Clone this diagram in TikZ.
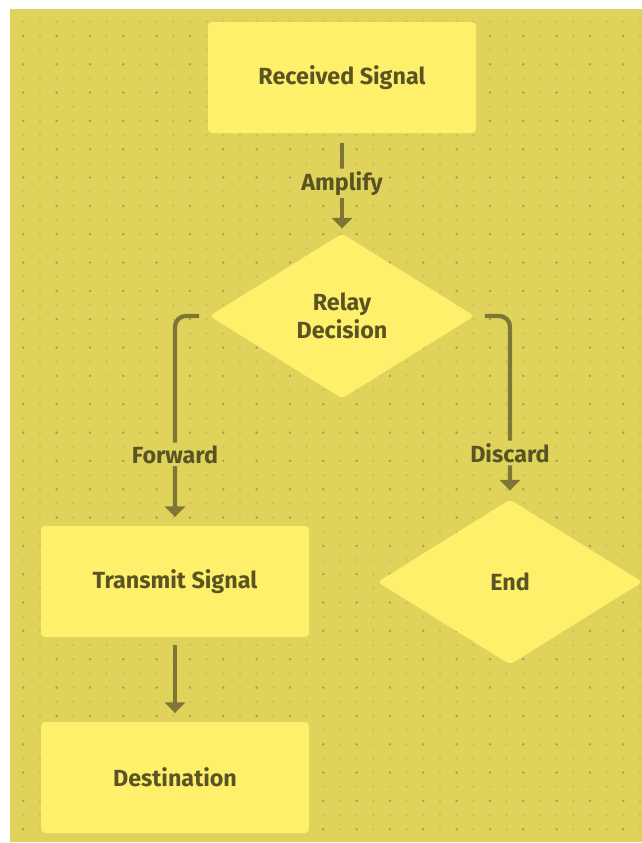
\documentclass[tikz,border=0pt]{standalone}
\usepackage{fontspec}
\setmainfont{Fira Sans}
\usetikzlibrary{shapes.geometric,arrows.meta}
\definecolor{bgc}{HTML}{E0D35B}
\definecolor{nodefill}{HTML}{FFF06B}
\definecolor{linec}{HTML}{7E7634}
\definecolor{textc}{HTML}{5A5424}
\definecolor{dotdark}{HTML}{ADA244}
\definecolor{dotlight}{HTML}{C9BE51}
\tikzset{
  box/.style={rectangle, rounded corners=3pt, fill=nodefill, minimum width=201pt, minimum height=83.25pt, inner sep=0pt},
  decision/.style={diamond, aspect=1.6, rounded corners=3pt, fill=nodefill, minimum width=198.75pt, minimum height=123.75pt, inner sep=0pt, align=center},
  txt/.style={font=\fontsize{17.5}{21}\selectfont\bfseries, text=textc},
  conn/.style={draw=linec, line width=3.2pt, -{Triangle[width=15pt,length=8pt]}, rounded corners=8pt},
  lbl/.style={fill=bgc, inner sep=2pt, font=\fontsize{17.5}{21}\selectfont\bfseries, text=textc}
}
\begin{document}
\begin{tikzpicture}[x=0.75pt,y=-0.75pt]
\useasboundingbox (0,0) rectangle (642,843);
\fill[white] (0,0) rectangle (642,843);
\fill[bgc] (10,9) rectangle (642,842);
% minor dots
\foreach \i in {0,...,37}{
  \foreach \j in {0,...,57}{
    \fill[dotlight] ({23.3+16.667*\i},{21.7+14.167*\j}) circle (0.9pt);
  }
}
% major dots
\foreach \i in {0,...,18}{
  \foreach \j in {0,...,28}{
    \fill[dotdark] ({23.3+33.333*\i},{35.9+28.333*\j}) circle (1pt);
  }
}
\node[box, txt] (recv) at (342,77.5) {Received Signal};
\node[decision, txt] (dec) at (342,316) {Relay\\Decision};
\node[box, txt] (trans) at (175,581.5) {Transmit Signal};
\node[decision, txt] (endn) at (510,582) {End};
\node[box, txt] (dest) at (175,777.5) {Destination};
\draw[conn, shorten <=7.5pt, shorten >=3.5pt] (recv) -- node[lbl] {Amplify} (dec);
\draw[conn, shorten <=7.5pt, shorten >=6.5pt] (dec.west) -| node[lbl, pos=0.83] {Forward} (trans.north);
\draw[conn, shorten <=7.5pt, shorten >=6.5pt] (dec.east) -| node[lbl, pos=0.874] {Discard} (endn.north);
\draw[conn, shorten <=6pt, shorten >=6.5pt] (trans) -- (dest);
\end{tikzpicture}
\end{document}
